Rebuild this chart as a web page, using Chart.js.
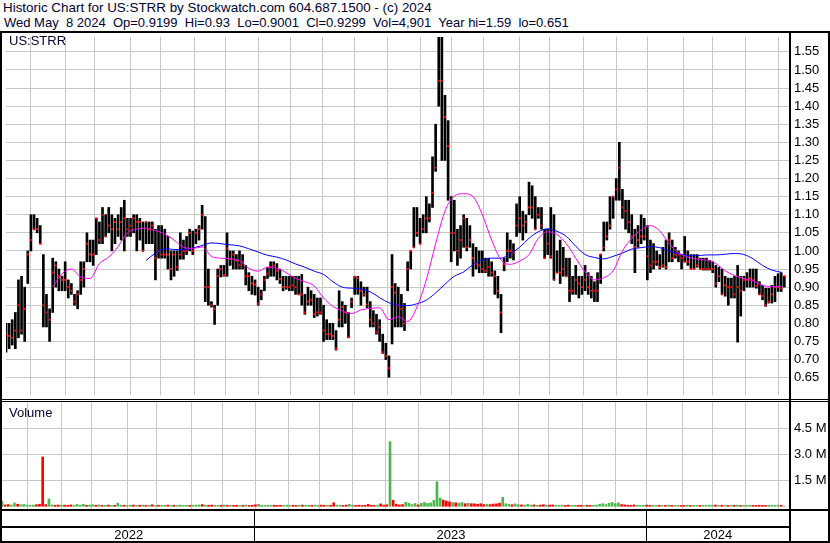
<!DOCTYPE html>
<html>
<head>
<meta charset="utf-8">
<script src="https://cdn.jsdelivr.net/npm/chart.js@4.4.1/dist/chart.umd.min.js"></script>
<style>
  body { margin: 0; background: #fff; width: 830px; height: 543px; overflow: hidden; position: relative; font-family: "Liberation Sans", Arial, sans-serif; }
  .txt { position: absolute; font-size: 13px; line-height: 15px; color: #000033; white-space: pre; }
  .ln { position: absolute; background: #000; z-index: 5; }
  canvas { position: absolute; }
</style>
</head>
<body>
<div class="txt" style="left:3px;top:0px;font-size:13.4px">Historic Chart for US:STRR by Stockwatch.com 604.687.1500 - (c) 2024</div>
<div class="txt" style="left:4px;top:15px">Wed May  8 2024  Op=0.9199  Hi=0.93  Lo=0.9001  Cl=0.9299  Vol=4,901  Year hi=1.59  lo=0.651</div>

<canvas id="price" width="828" height="366" style="left:2px;top:33px"></canvas>
<canvas id="vol" width="828" height="139" style="left:2px;top:402px"></canvas>

<div class="txt" style="left:9px;top:33px;z-index:6">US:STRR</div>
<div class="txt" style="left:9px;top:405px;z-index:6">Volume</div>

<div class="ln" style="left:0;top:31px;width:830px;height:2px"></div>
<div class="ln" style="left:0;top:31px;width:2px;height:512px"></div>
<div class="ln" style="left:828px;top:31px;width:2px;height:512px"></div>
<div class="ln" style="left:789px;top:31px;width:2px;height:512px"></div>
<div class="ln" style="left:0;top:399px;width:830px;height:1px"></div>
<div class="ln" style="left:0;top:401px;width:830px;height:1px"></div>
<div class="ln" style="left:0;top:509px;width:830px;height:2px"></div>
<div class="ln" style="left:0;top:526px;width:791px;height:2px"></div>
<div class="ln" style="left:0;top:541px;width:830px;height:2px"></div>

<script>
// one bar = 2 trading days, x axis is the trading day count from May 9 2022
const monthStarts = [16, 38, 57, 80, 99, 121, 141, 162, 183, 203, 224, 245, 266, 286, 307, 330, 349, 371, 392, 412, 435, 454, 475, 496];
const years = ["2022", "2023", "2024"];
const yearStarts = [0, 162, 412];
const priceTicks = [0.65, 0.70, 0.75, 0.80, 0.85, 0.90, 0.95, 1.00, 1.05, 1.10, 1.15, 1.20, 1.25, 1.30, 1.35, 1.40, 1.45, 1.50, 1.55];
const volTicks = [1.5, 3.0, 4.5];

const high = [
  0.80, 0.80, 0.81, 0.83, 0.92, 0.93, 0.90, 1.00, 1.10, 1.10,
  1.09, 1.07, 0.99, 0.88, 0.84, 0.98, 0.97, 0.95, 0.93, 0.97,
  0.92, 0.91, 0.88, 0.89, 0.97, 0.97, 1.05, 1.03, 1.03, 1.09,
  1.08, 1.12, 1.10, 1.12, 1.10, 1.09, 1.10, 1.12, 1.14, 1.09,
  1.09, 1.10, 1.10, 1.09, 1.08, 1.08, 1.08, 1.08, 1.06, 1.07,
  1.07, 1.06, 1.04, 1.00, 1.00, 1.00, 1.05, 1.03, 1.04, 1.06,
  1.055, 1.06, 1.07, 1.126, 1.095, 0.95, 0.86, 0.85, 0.95, 0.96,
  0.96, 1.05, 1.00, 1.00, 0.99, 1.00, 0.99, 0.96, 0.94, 0.93,
  0.92, 0.90, 0.892, 0.93, 0.955, 0.97, 0.97, 0.965, 0.95, 0.93,
  0.93, 0.93, 0.93, 0.93, 0.93, 0.935, 0.88, 0.90, 0.89, 0.88,
  0.87, 0.87, 0.85, 0.81, 0.80, 0.80, 0.78, 0.89, 0.86, 0.85,
  0.83, 0.87, 0.93, 0.93, 0.915, 0.90, 0.90, 0.86, 0.835, 0.825,
  0.81, 0.77, 0.745, 0.71, 0.99, 0.91, 0.90, 0.88, 0.855, 0.97,
  1.00, 1.12, 1.12, 1.09, 1.10, 1.15, 1.13, 1.26, 1.35, 1.59,
  1.59, 1.43, 1.36, 1.15, 1.14, 1.06, 1.07, 1.10, 1.09, 1.07,
  1.02, 1.01, 1.00, 1.00, 0.98, 0.98, 0.97, 0.945, 0.93, 0.88,
  0.98, 1.05, 1.03, 1.02, 1.13, 1.15, 1.11, 1.10, 1.19, 1.18,
  1.15, 1.12, 1.12, 1.06, 1.06, 1.12, 1.10, 1.00, 1.03, 1.01,
  0.98, 0.98, 0.93, 0.96, 0.93, 0.93, 0.96, 0.94, 0.93, 0.915,
  0.94, 0.99, 1.08, 1.08, 1.15, 1.15, 1.20, 1.30, 1.17, 1.14,
  1.14, 1.10, 1.06, 1.07, 1.10, 1.09, 1.07, 1.03, 1.02, 1.00,
  0.99, 1.01, 1.03, 1.05, 1.03, 1.01, 1.00, 0.99, 1.04, 1.00,
  0.99, 0.99, 0.99, 0.98, 0.98, 0.98, 0.974, 0.97, 0.96, 0.955,
  0.95, 0.93, 0.925, 0.925, 0.93, 0.96, 0.93, 0.93, 0.94, 0.95,
  0.95, 0.95, 0.915, 0.905, 0.897, 0.897, 0.905, 0.93, 0.937, 0.94,
  0.93
];
const low = [
  0.72, 0.73, 0.74, 0.73, 0.76, 0.77, 0.75, 0.91, 1.00, 1.06,
  1.05, 1.02, 0.79, 0.79, 0.75, 0.83, 0.90, 0.89, 0.89, 0.89,
  0.87, 0.88, 0.85, 0.84, 0.88, 0.90, 0.97, 0.97, 0.96, 0.99,
  1.02, 1.02, 1.04, 1.05, 1.00, 1.02, 1.04, 1.03, 1.00, 1.04,
  1.04, 1.05, 1.00, 1.03, 1.00, 1.02, 1.02, 1.02, 0.92, 0.98,
  0.98, 0.98, 0.95, 0.92, 0.93, 0.946, 0.977, 0.977, 0.99, 1.00,
  0.99, 1.02, 1.03, 1.06, 0.86, 0.85, 0.845, 0.797, 0.85, 0.928,
  0.93, 0.93, 0.96, 0.95, 0.95, 0.95, 0.95, 0.906, 0.89, 0.88,
  0.878, 0.85, 0.865, 0.89, 0.924, 0.93, 0.93, 0.92, 0.91, 0.89,
  0.894, 0.89, 0.89, 0.88, 0.88, 0.85, 0.825, 0.85, 0.85, 0.816,
  0.82, 0.825, 0.75, 0.755, 0.755, 0.755, 0.726, 0.79, 0.79, 0.80,
  0.76, 0.843, 0.88, 0.88, 0.85, 0.875, 0.843, 0.79, 0.79, 0.77,
  0.75, 0.717, 0.70, 0.651, 0.743, 0.79, 0.79, 0.79, 0.78, 0.89,
  0.95, 1.01, 1.04, 1.02, 1.05, 1.05, 1.08, 1.12, 1.22, 1.40,
  1.25, 1.25, 1.14, 0.97, 1.00, 0.96, 0.98, 1.01, 1.00, 1.01,
  0.93, 0.95, 0.94, 0.94, 0.94, 0.93, 0.93, 0.88, 0.87, 0.774,
  0.945, 0.97, 0.98, 0.975, 1.04, 1.05, 1.03, 1.05, 1.10, 1.09,
  1.06, 1.09, 1.06, 0.98, 0.99, 0.98, 0.92, 0.94, 0.91, 0.93,
  0.93, 0.86, 0.88, 0.88, 0.87, 0.88, 0.89, 0.88, 0.87, 0.86,
  0.86, 0.91, 1.00, 1.03, 1.06, 1.09, 1.14, 1.14, 1.09, 1.06,
  1.05, 1.02, 0.94, 1.01, 1.02, 1.03, 0.92, 0.94, 0.95, 0.96,
  0.95, 0.955, 0.95, 0.97, 0.97, 0.98, 0.97, 0.95, 0.97, 0.96,
  0.95, 0.95, 0.955, 0.95, 0.947, 0.947, 0.947, 0.94, 0.90, 0.915,
  0.88, 0.875, 0.85, 0.87, 0.87, 0.748, 0.82, 0.89, 0.90, 0.90,
  0.90, 0.897, 0.88, 0.865, 0.847, 0.856, 0.856, 0.86, 0.888, 0.888,
  0.9001
];
const close = [
  0.77, 0.765, 0.76, 0.78, 0.85, 0.78, 0.84, 0.99, 1.03, 1.06,
  1.06, 1.02, 0.85, 0.83, 0.81, 0.94, 0.96, 0.93, 0.92, 0.92,
  0.90, 0.89, 0.86, 0.88, 0.92, 0.95, 1.02, 0.99, 0.99, 1.09,
  1.03, 1.10, 1.04, 1.07, 1.06, 1.08, 1.06, 1.08, 1.09, 1.06,
  1.07, 1.09, 1.08, 1.08, 1.00, 1.08, 1.06, 1.07, 0.98, 1.00,
  0.99, 0.99, 0.99, 0.95, 0.99, 0.955, 0.99, 1.00, 1.00, 1.05,
  1.00, 1.05, 1.06, 1.10, 0.90, 0.90, 0.85, 0.84, 0.93, 0.95,
  0.933, 1.007, 0.978, 0.99, 0.973, 0.96, 0.97, 0.93, 0.93, 0.91,
  0.907, 0.854, 0.88, 0.92, 0.937, 0.955, 0.96, 0.945, 0.922, 0.90,
  0.90, 0.90, 0.905, 0.90, 0.88, 0.88, 0.83, 0.86, 0.865, 0.825,
  0.83, 0.83, 0.78, 0.77, 0.77, 0.765, 0.73, 0.81, 0.845, 0.83,
  0.762, 0.86, 0.928, 0.925, 0.89, 0.88, 0.852, 0.81, 0.80, 0.775,
  0.79, 0.72, 0.71, 0.676, 0.90, 0.885, 0.85, 0.84, 0.80, 0.95,
  1.00, 1.01, 1.05, 1.02, 1.06, 1.09, 1.09, 1.16, 1.23, 1.47,
  1.47, 1.37, 1.29, 1.05, 1.05, 1.00, 1.03, 1.09, 1.01, 1.03,
  0.98, 0.965, 0.96, 0.95, 0.945, 0.955, 0.94, 0.93, 0.89, 0.83,
  0.963, 1.00, 1.00, 0.995, 1.07, 1.09, 1.07, 1.08, 1.12, 1.12,
  1.06, 1.10, 1.07, 0.98, 1.02, 0.985, 0.92, 0.94, 0.94, 0.95,
  0.93, 0.89, 0.89, 0.92, 0.91, 0.90, 0.92, 0.90, 0.89, 0.89,
  0.89, 0.99, 1.01, 1.04, 1.07, 1.15, 1.17, 1.23, 1.12, 1.11,
  1.08, 1.04, 1.01, 1.03, 1.04, 1.04, 0.985, 0.96, 0.97, 0.97,
  0.955, 0.96, 0.955, 1.03, 0.98, 0.99, 0.99, 0.98, 0.97, 0.97,
  0.95, 0.95, 0.96, 0.95, 0.95, 0.95, 0.95, 0.95, 0.91, 0.93,
  0.88, 0.905, 0.90, 0.90, 0.88, 0.90, 0.89, 0.92, 0.92, 0.925,
  0.92, 0.904, 0.88, 0.876, 0.85, 0.86, 0.88, 0.90, 0.90, 0.896,
  0.9299
];
// volume in millions of shares
const volume = [
  0.29, 0.08, 0.10, 0.07, 0.19, 0.12, 0.09, 0.11, 0.07, 0.06,
  0.07, 0.09, 0.12, 2.85, 0.10, 0.42, 0.08, 0.06, 0.07, 0.06,
  0.07, 0.06, 0.08, 0.06, 0.11, 0.07, 0.12, 0.06, 0.07, 0.09,
  0.06, 0.08, 0.05, 0.06, 0.07, 0.05, 0.06, 0.17, 0.07, 0.06,
  0.05, 0.06, 0.07, 0.05, 0.06, 0.07, 0.05, 0.06, 0.09, 0.05,
  0.06, 0.05, 0.06, 0.07, 0.05, 0.06, 0.05, 0.07, 0.05, 0.06,
  0.05, 0.06, 0.07, 0.08, 0.10, 0.07, 0.06, 0.07, 0.06, 0.05,
  0.06, 0.08, 0.05, 0.06, 0.05, 0.06, 0.05, 0.06, 0.07, 0.05,
  0.06, 0.09, 0.12, 0.06, 0.05, 0.06, 0.05, 0.06, 0.05, 0.06,
  0.05, 0.07, 0.05, 0.06, 0.05, 0.06, 0.07, 0.05, 0.06, 0.05,
  0.06, 0.05, 0.07, 0.06, 0.05, 0.06, 0.20, 0.07, 0.06, 0.05,
  0.07, 0.11, 0.06, 0.05, 0.06, 0.05, 0.06, 0.11, 0.06, 0.05,
  0.07, 0.14, 0.07, 0.09, 3.73, 0.35, 0.12, 0.08, 0.10, 0.23,
  0.18, 0.10, 0.16, 0.08, 0.17, 0.22, 0.16, 0.20, 0.34, 1.42,
  0.48, 0.36, 0.30, 0.26, 0.22, 0.20, 0.18, 0.22, 0.15, 0.17,
  0.15, 0.14, 0.12, 0.15, 0.10, 0.12, 0.10, 0.13, 0.14, 0.18,
  0.52, 0.15, 0.12, 0.09, 0.14, 0.10, 0.08, 0.07, 0.12, 0.07,
  0.08, 0.06, 0.07, 0.09, 0.06, 0.07, 0.08, 0.06, 0.05, 0.06,
  0.05, 0.07, 0.05, 0.06, 0.05, 0.06, 0.05, 0.06, 0.05, 0.06,
  0.07, 0.12, 0.15, 0.10, 0.18, 0.22, 0.15, 0.20, 0.10, 0.08,
  0.07, 0.06, 0.08, 0.06, 0.05, 0.06, 0.07, 0.05, 0.06, 0.05,
  0.06, 0.05, 0.05, 0.07, 0.05, 0.05, 0.05, 0.05, 0.05, 0.06,
  0.05, 0.05, 0.05, 0.05, 0.05, 0.05, 0.06, 0.05, 0.07, 0.05,
  0.06, 0.05, 0.05, 0.05, 0.06, 0.07, 0.05, 0.05, 0.05, 0.06,
  0.05, 0.05, 0.06, 0.05, 0.05, 0.06, 0.05, 0.05, 0.05, 0.06,
  0.005
];
// moving averages, one value every 3rd bar
const maFast = [
  0.90, 0.937, 0.95, 0.928, 0.924, 0.965, 0.983, 1.012, 1.05, 1.06,
  1.063, 1.056, 1.047, 1.030, 1.010, 1.007, 1.011, 0.985, 0.98, 0.978,
  0.973, 0.952, 0.944, 0.955, 0.952, 0.94, 0.924, 0.915, 0.903, 0.87,
  0.847, 0.834, 0.827, 0.837, 0.841, 0.843, 0.81, 0.818, 0.805, 0.845,
  0.92, 1.02, 1.11, 1.152, 1.158, 1.15, 1.10, 1.03, 0.975, 0.963,
  0.972, 0.99, 1.035, 1.053, 1.045, 1.02, 0.98, 0.942, 0.92, 0.926,
  0.945, 1.0, 1.035, 1.058, 1.07, 1.055, 1.02, 0.995, 0.983, 0.977,
  0.975, 0.965, 0.945, 0.932, 0.924, 0.917, 0.905, 0.901, 0.901
];
const maSlow = [
  0.974, 0.994, 1.006, 1.004, 1.003, 1.008, 1.015, 1.022, 1.02, 1.017,
  1.014, 1.006, 0.997, 0.988, 0.983, 0.975, 0.964, 0.955, 0.944, 0.935,
  0.915, 0.90, 0.897, 0.895, 0.887, 0.871, 0.857, 0.85, 0.849, 0.854,
  0.864, 0.884, 0.908, 0.93, 0.942, 0.962, 0.975, 0.98, 0.98, 0.993,
  1.01, 1.035, 1.053, 1.061, 1.054, 1.04, 1.013, 0.99, 0.982, 0.978,
  0.985, 0.994, 1.005, 1.009, 1.012, 1.009, 1.0, 0.992, 0.988, 0.987,
  0.989, 0.989, 0.991, 0.993, 0.99, 0.978, 0.96, 0.947, 0.941
];
const DAYS_PER_BAR = 2;
const MA_STEP = 3;
const MA_FAST_FROM = 15;
const MA_SLOW_FROM = 45;
const X_MAX = 503;

Chart.defaults.font.family = '"Liberation Sans", Arial, sans-serif';
Chart.defaults.font.size = 13;
Chart.defaults.color = "#000";

const dayOf = i => i * DAYS_PER_BAR;
const gridColor = "#c8c8c8";

function xScale() {
  return {
    type: "linear", min: 0, max: X_MAX, offset: false,
    grid: { color: gridColor, offset: false, drawTicks: false },
    border: { display: false },
    ticks: { display: false },
    afterBuildTicks: s => { s.ticks = monthStarts.map(v => ({ value: v })); },
    afterFit: s => { s.height = 0; s.paddingLeft = 0; s.paddingRight = 0; }
  };
}
function yScale(min, max, tickList, fmt) {
  return {
    position: "right", min: min, max: max, beginAtZero: false,
    grid: { color: gridColor, drawTicks: false },
    border: { display: false },
    ticks: { padding: 5, color: "#000", callback: fmt },
    afterBuildTicks: s => { s.ticks = tickList.map(v => ({ value: v })); },
    afterFit: s => { s.width = 41; s.paddingTop = 0; s.paddingBottom = 0; }
  };
}
const common = {
  responsive: false, animation: false, events: [],
  layout: { padding: 0 },
  plugins: { legend: { display: false }, tooltip: { enabled: false } }
};

new Chart(document.getElementById("price"), {
  type: "bar",
  data: {
    datasets: [
      { type: "line", data: maFast.map((v, k) => ({ x: dayOf(MA_FAST_FROM + k * MA_STEP), y: v })),
        borderColor: "#ff00ff", borderWidth: 1, pointRadius: 0, cubicInterpolationMode: "monotone", order: 0 },
      { type: "line", data: maSlow.map((v, k) => ({ x: dayOf(MA_SLOW_FROM + k * MA_STEP), y: v })),
        borderColor: "#0000ff", borderWidth: 1, pointRadius: 0, cubicInterpolationMode: "monotone", order: 1 },
      { type: "line", showLine: false, data: close.map((v, i) => ({ x: dayOf(i), y: v })),
        pointStyle: "rect", pointRadius: 1.42, pointBorderWidth: 0, pointBackgroundColor: "#ff0000", order: 2 },
      { type: "bar", data: high.map((h, i) => ({ x: dayOf(i), y: [low[i], h] })),
        backgroundColor: "#000", barThickness: 2, order: 3 }
    ]
  },
  options: Object.assign({}, common, {
    scales: { x: xScale(), y: yScale(0.602, 1.591, priceTicks, v => v.toFixed(2)) }
  })
});

const yearBand = {
  id: "yearBand",
  afterDraw(chart) {
    const { ctx, chartArea } = chart;
    const x = chart.scales.x;
    ctx.save();
    ctx.fillStyle = "#000";
    ctx.font = '13px "Liberation Sans", Arial, sans-serif';
    ctx.textAlign = "center";
    ctx.textBaseline = "middle";
    yearStarts.forEach((d, k) => {
      const a = x.getPixelForValue(d);
      const b = x.getPixelForValue(k + 1 < yearStarts.length ? yearStarts[k + 1] : X_MAX);
      if (k > 0) ctx.fillRect(Math.round(a) - 1, chartArea.bottom, 1, chart.height - chartArea.bottom);
      ctx.fillText(years[k], (a + b) / 2, chartArea.bottom + 26);
    });
    ctx.restore();
  }
};

new Chart(document.getElementById("vol"), {
  type: "bar",
  data: {
    datasets: [{
      data: volume.map((v, i) => ({ x: dayOf(i), y: v })),
      backgroundColor: volume.map((v, i) => (i > 0 && close[i] < close[i - 1]) ? "#ff0000" : "#4cb84c"),
      barThickness: 2
    }]
  },
  options: Object.assign({}, common, {
    layout: { padding: { bottom: 32 } },
    scales: { x: xScale(), y: yScale(-0.156, 6.02, volTicks, v => v.toFixed(1) + " M") }
  }),
  plugins: [yearBand]
});
</script>
</body>
</html>
